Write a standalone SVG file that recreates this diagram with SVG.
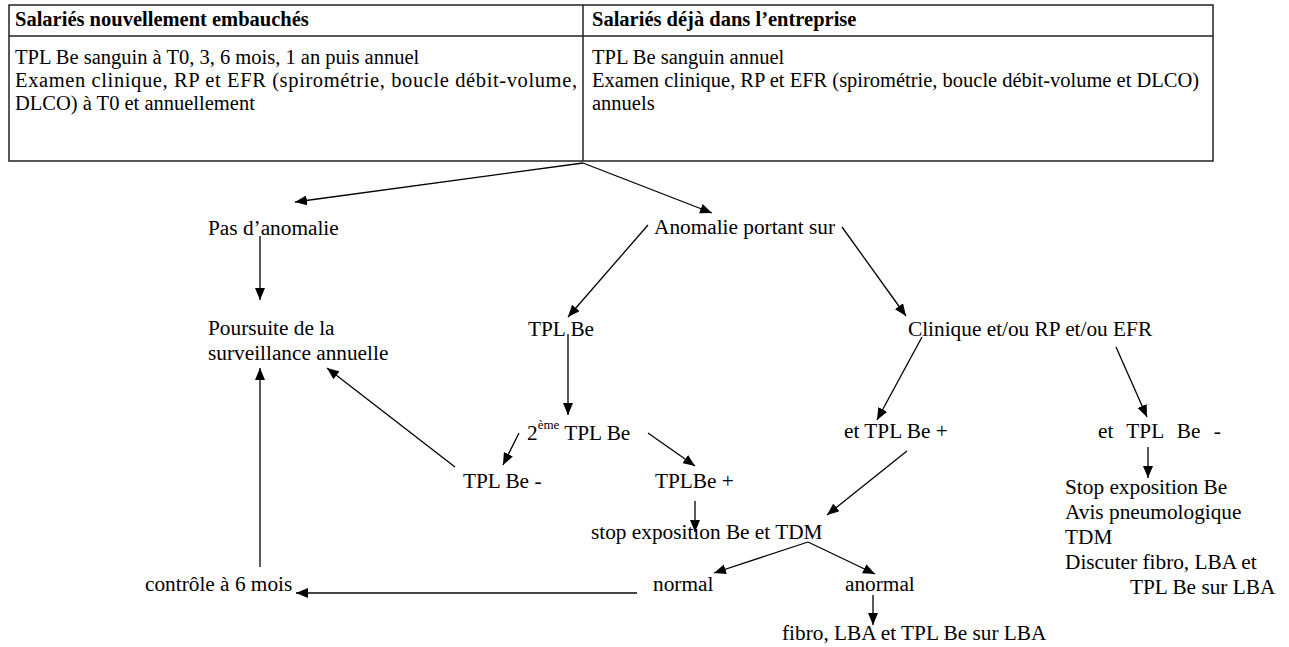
<svg xmlns="http://www.w3.org/2000/svg" width="1289" height="647" viewBox="0 0 1289 647">
<defs>
<marker id="ah" viewBox="0 0 12 10" refX="12" refY="5" markerWidth="12" markerHeight="10" markerUnits="userSpaceOnUse" orient="auto">
<path d="M0,0 L12,5 L0,10 Z" fill="#000"/>
</marker>
<style>
text{font-family:"Liberation Serif","Times New Roman",serif;fill:#000}
.t{font-size:21.3px}
.tb{font-size:20.5px}
.h{font-size:20.5px;font-weight:bold}
.c{stroke:#000;stroke-width:1.3;fill:none;marker-end:url(#ah)}
.cl{stroke:#000;stroke-width:1.3;fill:none}
.tab{stroke:#222;stroke-width:1.5;fill:none}
</style>
</defs>
<rect width="1289" height="647" fill="#fff"/>
<g id="table">
<rect class="tab" x="9" y="5" width="1204" height="156"/>
<line class="tab" x1="9" y1="36" x2="1213" y2="36"/>
<line class="tab" x1="583" y1="5" x2="583" y2="161"/>
<text class="h" x="15" y="26">Salariés nouvellement embauchés</text>
<text class="h" x="592" y="26">Salariés déjà dans l’entreprise</text>
<text class="tb" x="15" y="64">TPL Be sanguin à T0, 3, 6 mois, 1 an puis annuel</text>
<text class="tb" x="15" y="87" textLength="562" lengthAdjust="spacing">Examen clinique, RP et EFR (spirométrie, boucle débit-volume,</text>
<text class="tb" x="15" y="110">DLCO) à T0 et annuellement</text>
<text class="tb" x="592" y="64">TPL Be sanguin annuel</text>
<text class="tb" x="592" y="87" textLength="607" lengthAdjust="spacingAndGlyphs">Examen clinique, RP et EFR (spirométrie, boucle débit-volume et DLCO)</text>
<text class="tb" x="592" y="110">annuels</text>
</g>
<g id="connectors">
<line class="c" x1="583" y1="163" x2="295" y2="202"/>
<line class="c" x1="583" y1="163" x2="712" y2="213"/>
<line class="c" x1="260" y1="236" x2="260" y2="300"/>
<line class="c" x1="648" y1="225" x2="568" y2="317"/>
<line class="c" x1="842" y1="227" x2="906" y2="316"/>
<line class="c" x1="568" y1="334" x2="568" y2="415"/>
<line class="c" x1="922" y1="337" x2="877" y2="420"/>
<line class="c" x1="1116" y1="347" x2="1147" y2="417"/>
<line class="c" x1="519" y1="433" x2="503" y2="465"/>
<line class="c" x1="648" y1="433" x2="695" y2="466"/>
<line class="c" x1="455" y1="467" x2="327" y2="368"/>
<line class="c" x1="1148" y1="447" x2="1148" y2="478"/>
<line class="c" x1="695" y1="501" x2="695" y2="532"/>
<line class="c" x1="907" y1="451" x2="827" y2="515"/>
<line class="c" x1="808" y1="542" x2="714" y2="573"/>
<line class="c" x1="808" y1="542" x2="875" y2="574"/>
<line class="c" x1="873" y1="595" x2="873" y2="625"/>
<line class="c" x1="637" y1="593" x2="296" y2="593" style="stroke:#444;stroke-width:2"/>
<line class="c" x1="260" y1="567" x2="260" y2="368"/>
</g>
<g id="pas-anomalie"><text class="t" x="208" y="235">Pas d’anomalie</text></g>
<g id="anomalie"><text class="t" x="654" y="234">Anomalie portant sur</text></g>
<g id="poursuite"><text class="t" x="208" y="335">Poursuite de la</text><text class="t" x="208" y="360">surveillance annuelle</text></g>
<g id="tpl-be"><text class="t" x="528" y="336">TPL Be</text></g>
<g id="clinique"><text class="t" x="908" y="336">Clinique et/ou RP et/ou EFR</text></g>
<g id="deuxieme"><text class="t" x="527" y="440">2<tspan font-size="13" dy="-11">ème</tspan><tspan dy="11"> TPL Be</tspan></text></g>
<g id="tpl-moins"><text class="t" x="463" y="488">TPL Be -</text></g>
<g id="tpl-plus"><text class="t" x="655" y="488">TPLBe +</text></g>
<g id="et-plus"><text class="t" x="844" y="438">et TPL Be +</text></g>
<g id="et-moins"><text class="t" x="1098" y="438" word-spacing="8">et TPL Be -</text></g>
<g id="stop-tdm"><text class="t" x="591" y="539">stop exposition Be et TDM</text></g>
<g id="stop-avis">
<text class="t" x="1065" y="494">Stop exposition Be</text>
<text class="t" x="1065" y="519">Avis pneumologique</text>
<text class="t" x="1065" y="544">TDM</text>
<text class="t" x="1065" y="569">Discuter fibro, LBA et</text>
<text class="t" x="1130" y="594">TPL Be sur LBA</text>
</g>
<g id="normal"><text class="t" x="653" y="591">normal</text></g>
<g id="anormal"><text class="t" x="845" y="591">anormal</text></g>
<g id="controle"><text class="t" x="145" y="591">contrôle à 6 mois</text></g>
<g id="fibro"><text class="t" x="782" y="640">fibro, LBA et TPL Be sur LBA</text></g>
</svg>
